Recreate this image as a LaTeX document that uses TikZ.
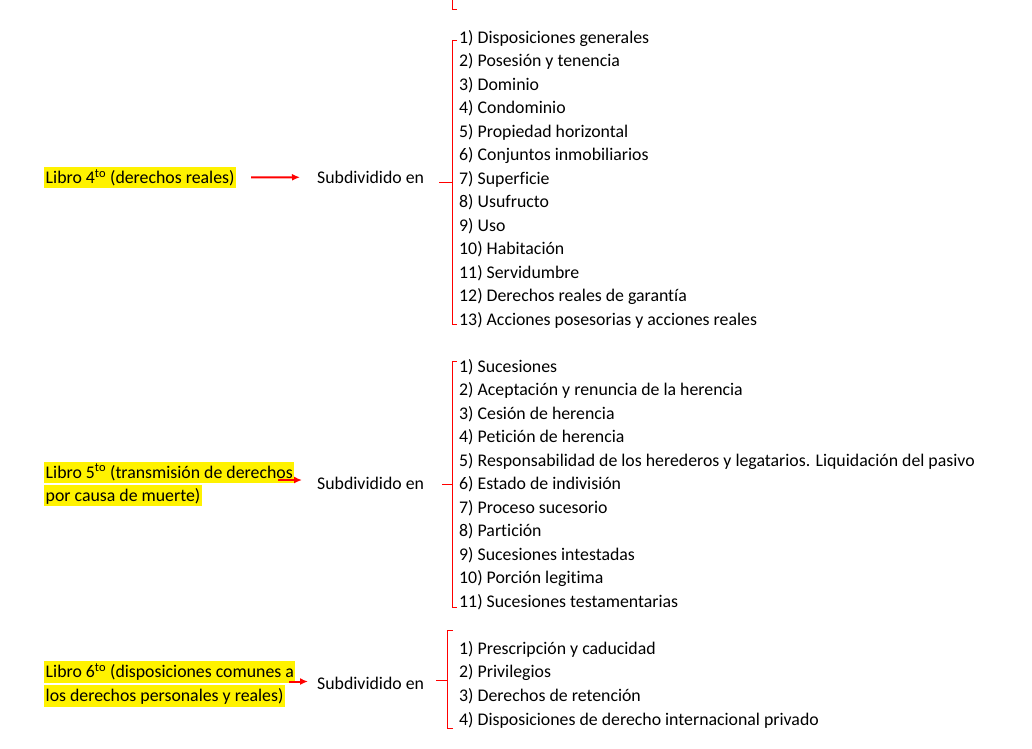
\documentclass[tikz,border=0pt]{standalone}
\usepackage{fontspec}
\setmainfont{Carlito}[RawFeature={-liga;-clig}]
\usetikzlibrary{arrows.meta}

\begin{document}
\begin{tikzpicture}[x=1pt,y=-1pt]

\tikzstyle{every node}=[font=\fontsize{17.8}{23.5}\selectfont, inner sep=0pt]
\tikzstyle{libro}=[fill=yellow, anchor=base west, inner xsep=1.5pt, text height=16.5pt, text depth=5pt]
\tikzstyle{item}=[anchor=base west]
\tikzstyle{brace}=[red, line width=1pt]
\tikzstyle{flecha}=[red, line width=2pt, -{Latex[length=8pt,width=7pt]}]

\useasboundingbox (0,0) rectangle (1032,748);

% libro 4
\draw[brace] (452,0) |- (457,9);
\node[libro] (l4) at (44,183.3) {Libro 4\textsuperscript{to} (derechos reales)};
\node[item] (s4) at (317,183.3) {Subdividido en};
\draw[flecha, shorten <=15pt, shorten >=17pt] (l4.east) -- (s4.west);
\draw[brace] (457,40.7) -| (452,324) -- (457,324);
\draw[brace] (452,182.7) -- (439,182.7);
\foreach \t [count=\i] in {Disposiciones generales, Posesión y tenencia, Dominio,
  Condominio, Propiedad horizontal, Conjuntos inmobiliarios, Superficie, Usufructo,
  Uso, Habitación, Servidumbre, Derechos reales de garantía,
  Acciones posesorias y acciones reales}
  \node[item] (p4-\i) at (459,43+23.5*\i-23.5) {\i) \t};

% libro 5
\node[libro] (l5a) at (44,478) {Libro 5\textsuperscript{to} (transmisión de derechos};
\node[libro] (l5b) at (44,501) {por causa de muerte)};
\node[item] (s5) at (317,489.7) {Subdividido en};
\coordinate (a5) at (278,480);
\draw[flecha, shorten >=15pt] (a5) -- (a5 -| s5.west);
\draw[brace] (456.5,361.7) -| (452,607) -- (456.5,607);
\draw[brace] (452,484.7) -- (442,484.7);
\foreach \t [count=\i] in {Sucesiones, Aceptación y renuncia de la herencia,
  Cesión de herencia, Petición de herencia,
  Responsabilidad de los herederos y legatarios. Liquidación del pasivo,
  Estado de indivisión, Proceso sucesorio, Partición, Sucesiones intestadas,
  Porción legitima, Sucesiones testamentarias}
  \node[item] (p5-\i) at (459,372+23.5*\i-23.5) {\i) \t};

% libro 6
\node[libro] (l6a) at (44,677.7) {Libro 6\textsuperscript{to} (disposiciones comunes a};
\node[libro] (l6b) at (44,701.7) {los derechos personales y reales)};
\node[item] (s6) at (317,689.7) {Subdividido en};
\coordinate (a6) at (289,681.5);
\draw[flecha, shorten >=9pt] (a6) -- (a6 -| s6.west);
\draw[brace] (453,630.7) -| (447,728) -- (453,728);
\draw[brace] (447,680.5) -- (436,680.5);
\foreach \t [count=\i] in {Prescripción y caducidad, Privilegios,
  Derechos de retención, Disposiciones de derecho internacional privado}
  \node[item] (p6-\i) at (459,654+23.7*\i-23.7) {\i) \t};

\end{tikzpicture}
\end{document}
